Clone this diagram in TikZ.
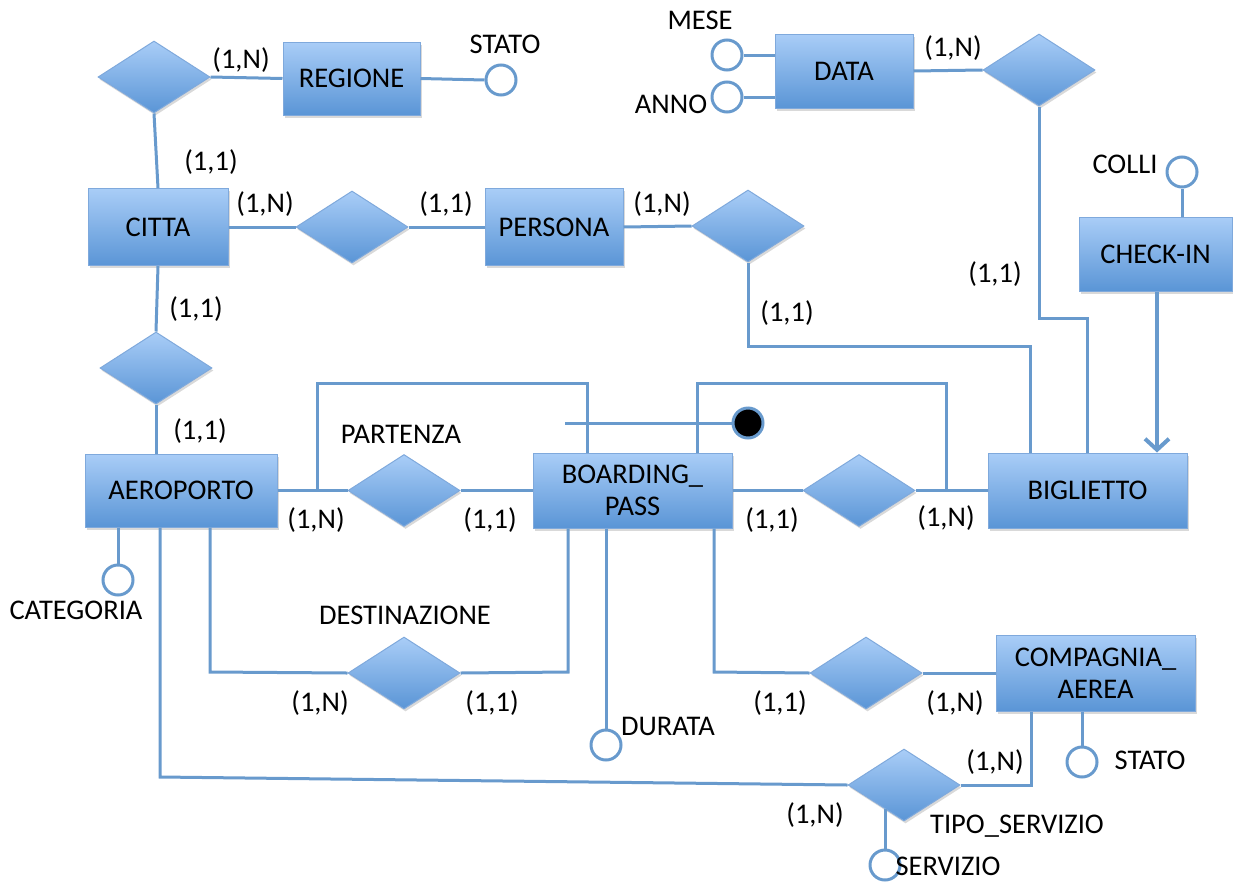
\documentclass[tikz,border=0pt]{standalone}
\usepackage{fontspec}
\setmainfont{Carlito}
\usetikzlibrary{shapes.geometric,shadows,arrows.meta}
\definecolor{erline}{HTML}{689ACD}
\definecolor{erborder}{HTML}{7FA9DC}
\definecolor{ertop}{HTML}{A9CDF7}
\definecolor{erbot}{HTML}{5A95D6}

\begin{document}
\begin{tikzpicture}[x=1pt,y=-1pt,
  font=\fontsize{28.5}{32}\selectfont,
  every node/.style={inner sep=0pt},
  softshadow/.style={drop shadow={shadow xshift=1.5pt,shadow yshift=-2.5pt,opacity=0.3}},
  entity/.style={rectangle,draw=erborder,line width=1pt,top color=ertop,bottom color=erbot,softshadow,align=center},
  rel/.style={diamond,aspect=1.55,minimum width=112pt,minimum height=72pt,draw=erborder,line width=1pt,top color=ertop,bottom color=erbot,softshadow},
  attr/.style={circle,minimum size=30pt,draw=erline,line width=3pt,fill=white},
  keydot/.style={circle,minimum size=30pt,draw=erline,line width=3pt,fill=black},
  conn/.style={draw=erline,line width=3pt},
  lbl/.style={text=black}
]
\useasboundingbox (0,0) rectangle (1233,881);

% ---------- entities ----------
\node[entity,minimum width=137pt,minimum height=73pt] (REG) at (351.5,78.5) {REGIONE};
\node[entity,minimum width=138pt,minimum height=74pt] (DATA) at (844,71) {DATA};
\node[entity,minimum width=140pt,minimum height=77pt] (CIT) at (158,227) {CITTA};
\node[entity,minimum width=138pt,minimum height=77pt] (PER) at (554,227) {PERSONA};
\node[entity,minimum width=153pt,minimum height=74pt] (CHK) at (1155.5,254) {CHECK-IN};
\node[entity,minimum width=192pt,minimum height=73pt] (AER) at (181,490.5) {AEROPORTO};
\node[entity,minimum width=199pt,minimum height=75pt] (BP) at (632.5,490.5) {BOARDING\_\\PASS};
\node[entity,minimum width=199pt,minimum height=75pt] (BIG) at (1087.5,490.5) {BIGLIETTO};
\node[entity,minimum width=199pt,minimum height=76pt] (COMP) at (1095.5,673) {COMPAGNIA\_\\AEREA};

% ---------- relationships ----------
\node[rel] (R1) at (154,77) {};
\node[rel] (R2) at (1039,70) {};
\node[rel] (R3) at (352,227) {};
\node[rel] (R4) at (748,226) {};
\node[rel] (R5) at (156,368) {};
\node[rel] (R6) at (404,490.5) {};
\node[rel] (R7) at (859,490.5) {};
\node[rel] (R8) at (404,673) {};
\node[rel] (R9) at (866,673) {};
\node[rel] (R10) at (904,785) {};

% ---------- attributes ----------
\node[attr] (aStatoR) at (501,80) {};
\node[attr] (aMese) at (727,55) {};
\node[attr] (aAnno) at (727,97) {};
\node[attr] (aColli) at (1182,172) {};
\node[attr] (aCat) at (118,580) {};
\node[attr] (aDur) at (606,745) {};
\node[attr] (aStatoC) at (1082,762) {};
\node[attr] (aServ) at (885,865) {};
\node[keydot] (KEY) at (748,423) {};

% ---------- routing points ----------
\coordinate (kP) at (1030,346);
\coordinate (kD) at (1087,318);
\coordinate (pA) at (317,383);
\coordinate (pB) at (587,383);
\coordinate (qA) at (697,383);
\coordinate (qB) at (946,383);
\coordinate (idStart) at (565,423);
\coordinate (xCat) at (118,0);
\coordinate (xSrv) at (160,777);
\coordinate (xDst) at (210,672);
\coordinate (xDstB) at (568,672);
\coordinate (xDur) at (606,0);
\coordinate (xCmp) at (714,672);
\coordinate (tS) at (1031,785);
\coordinate (sS) at (885,809);
\coordinate (xArr) at (1157,0);
\coordinate (xSC) at (1082,0);

% ---------- connectors ----------
\draw[conn] (R1.east) -- (REG.west);
\draw[conn] (REG.east) -- (aStatoR.west);
\draw[conn] (R1.south) -- (CIT.north);
\draw[conn] (aMese.east) -- (aMese.east -| DATA.west);
\draw[conn] (aAnno.east) -- (aAnno.east -| DATA.west);
\draw[conn] (DATA.east) -- (R2.west);
\draw[conn] (R2.south) |- (kD) -- (kD |- BIG.north);
\draw[conn] (CIT.east) -- (R3.west);
\draw[conn] (R3.east) -- (PER.west);
\draw[conn] (PER.east) -- (R4.west);
\draw[conn] (R4.south) |- (kP) -- (kP |- BIG.north);
\draw[conn] (aColli.south) -- (aColli.south |- CHK.north);
\draw[conn,line width=4pt,-{Straight Barb[length=11pt,width=24pt]}] (xArr |- CHK.south) -- (xArr |- BIG.north);
\draw[conn] (CIT.south) -- (R5.north);
\draw[conn] (R5.south) -- (R5.south |- AER.north);
\draw[conn] (AER.east) -- (R6.west);
\draw[conn] (R6.east) -- (BP.west);
\draw[conn] (pA |- R6.west) -- (pA) -- (pB) -- (pB |- BP.north);
\draw[conn] (qA |- BP.north) -- (qA) -- (qB) -- (qB |- R7.east);
\draw[conn] (idStart) -- (KEY.west);
\draw[conn] (BP.east) -- (R7.west);
\draw[conn] (R7.east) -- (BIG.west);
\draw[conn] (xCat |- AER.south) -- (aCat.north);
\draw[conn] (xDst |- AER.south) -- (xDst) -- (R8.west);
\draw[conn] (R8.east) -- (xDstB) -- (xDstB |- BP.south);
\draw[conn] (xDur |- BP.south) -- (aDur.north);
\draw[conn] (xCmp |- BP.south) -- (xCmp) -- (R9.west);
\draw[conn] (R9.east) -- (COMP.west);
\draw[conn] (xSC |- COMP.south) -- (aStatoC.north);
\draw[conn] (xSrv |- AER.south) -- (xSrv) -- (R10.west);
\draw[conn] (R10.east) -- (tS) -- (tS |- COMP.south);
\draw[conn] (sS) -- (aServ.north);

% ---------- labels ----------
\node[lbl] (l1) at (241,60) {(1,N)};
\node[lbl] (l2) at (505,44) {STATO};
\node[lbl] (l3) at (700,20) {MESE};
\node[lbl] (l4) at (671,104) {ANNO};
\node[lbl] (l5) at (953,48) {(1,N)};
\node[lbl] (l6) at (211,162) {(1,1)};
\node[lbl] (l7) at (1125,164) {COLLI};
\node[lbl] (l8) at (265,204) {(1,N)};
\node[lbl] (l9) at (446,204) {(1,1)};
\node[lbl] (l10) at (662,204) {(1,N)};
\node[lbl] (l11) at (995,274) {(1,1)};
\node[lbl] (l12) at (787,313) {(1,1)};
\node[lbl] (l13) at (196,309) {(1,1)};
\node[lbl] (l14) at (200,431) {(1,1)};
\node[lbl] (l15) at (401,434) {PARTENZA};
\node[lbl] (l16) at (316,520) {(1,N)};
\node[lbl] (l17) at (490,520) {(1,1)};
\node[lbl] (l18) at (772,520) {(1,1)};
\node[lbl] (l19) at (946,518) {(1,N)};
\node[lbl] (l20) at (76,610) {CATEGORIA};
\node[lbl] (l21) at (405,615) {DESTINAZIONE};
\node[lbl] (l22) at (320,703) {(1,N)};
\node[lbl] (l23) at (492,703) {(1,1)};
\node[lbl] (l24) at (668,726) {DURATA};
\node[lbl] (l25) at (780,703) {(1,1)};
\node[lbl] (l26) at (955,703) {(1,N)};
\node[lbl] (l27) at (995,762) {(1,N)};
\node[lbl] (l28) at (1150,760) {STATO};
\node[lbl] (l29) at (815,815) {(1,N)};
\node[lbl] (l30) at (1017,826) {TIPO\_SERVIZIO};
\node[lbl] (l31) at (948,866) {SERVIZIO};
\end{tikzpicture}
\end{document}
